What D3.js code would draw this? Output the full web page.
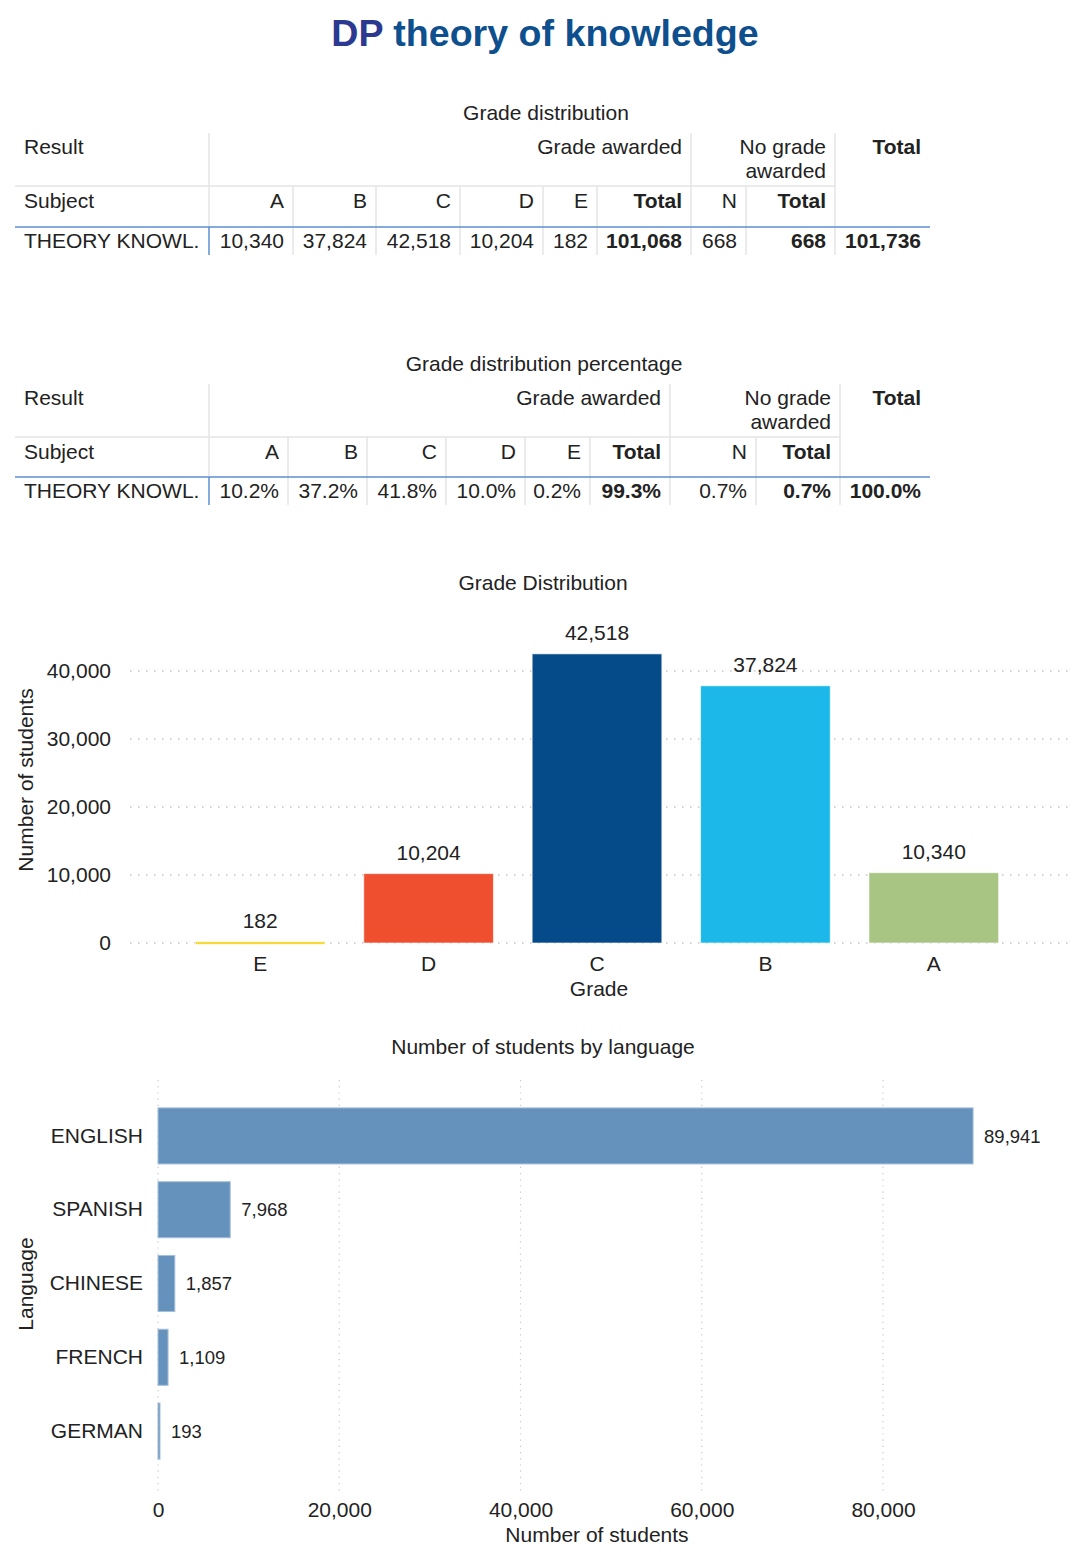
<!DOCTYPE html>
<html>
<head>
<meta charset="utf-8">
<script src="https://cdn.jsdelivr.net/npm/d3@7"></script>
<style>
  body { margin: 0; background: #fff; }
  svg text { font-family: "Liberation Sans", Arial, sans-serif; fill: #222; }
</style>
</head>
<body>
<div id="chart"></div>
<script>
// data
var subject = "THEORY KNOWL.";
var colHeads = ["A", "B", "C", "D", "E", "Total", "N", "Total", "Total"];
var colBold = [false, false, false, false, false, true, false, true, true];
var gradeCounts = [10340, 37824, 42518, 10204, 182, 101068, 668, 668, 101736];
var gradePercents = [10.2, 37.2, 41.8, 10.0, 0.2, 99.3, 0.7, 0.7, 100.0];

var grades = ["E", "D", "C", "B", "A"];
var gradeValues = [182, 10204, 42518, 37824, 10340];
var gradeColors = ["#f5d315", "#f04f2f", "#054a89", "#1cb8e9", "#a8c583"];
var gradeTicks = [0, 10000, 20000, 30000, 40000];

var languages = ["ENGLISH", "SPANISH", "CHINESE", "FRENCH", "GERMAN"];
var languageValues = [89941, 7968, 1857, 1109, 193];
var languageTicks = [0, 20000, 40000, 60000, 80000];

var W = 1080, H = 1559;
var fmt = d3.format(",");
var svg = d3.select("#chart").append("svg")
    .attr("width", W)
    .attr("height", H);

svg.append("text")
    .attr("x", 545).attr("y", 32).attr("dy", "0.36em")
    .attr("text-anchor", "middle")
    .style("font-size", "37.6px").style("font-weight", "bold")
    .call(function(t) {
        t.append("tspan").text("DP").style("fill", "#2b3990");
        t.append("tspan").text(" theory of knowledge").style("fill", "#0e4f8e");
    });

function drawTable(opt) {
    var g = svg.append("g");
    var e = opt.edges, r = opt.rows;
    var grey = "#e4e4e4", blue = "#5b8fd0";

    g.append("text").attr("x", opt.titleX).attr("y", r[0] - 21).attr("dy", "0.36em")
        .attr("text-anchor", "middle").style("font-size", "21px").text(opt.title);

    function line(x1, y1, x2, y2, c) {
        g.append("line").attr("x1", x1).attr("y1", y1).attr("x2", x2).attr("y2", y2)
            .attr("stroke", c).attr("stroke-width", 1.5);
    }
    // header row 1 dividers
    [1, 7, 9].forEach(function(i) { line(e[i], r[0], e[i], r[1], grey); });
    line(e[0], r[1], e[9], r[1], grey);
    // header row 2 dividers
    for (var i = 1; i <= 9; i++) line(e[i], r[1], e[i], r[2], grey);
    // data row dividers
    for (var i = 2; i <= 9; i++) line(e[i], r[2], e[i], r[3], grey);
    line(e[0], r[2], e[10], r[2], blue);
    line(e[1], r[2], e[1], r[3], blue);

    function txt(x, y, s, anchor, bold) {
        g.append("text").attr("x", x).attr("y", y).attr("dy", "0.36em")
            .attr("text-anchor", anchor).style("font-size", "21px")
            .style("font-weight", bold ? "bold" : "normal").text(s);
    }
    var pad = 9;
    var y1 = r[0] + 13, y2 = r[1] + 14, y3 = (r[2] + r[3]) / 2 - 1;
    txt(e[0] + pad, y1, "Result", "start");
    txt(e[7] - pad, y1, "Grade awarded", "end");
    txt(e[9] - pad, y1, "No grade", "end");
    txt(e[9] - pad, y1 + 24, "awarded", "end");
    txt(e[10] - pad, y1, "Total", "end", true);
    txt(e[0] + pad, y2, "Subject", "start");
    colHeads.forEach(function(h, i) {
        if (i < 8) txt(e[i + 2] - pad, y2, h, "end", colBold[i]);
    });
    txt(e[0] + pad, y3, subject, "start");
    opt.values.forEach(function(v, i) {
        txt(e[i + 2] - pad, y3, opt.format(v), "end", colBold[i]);
    });
}

drawTable({
    title: "Grade distribution", titleX: 546,
    edges: [15, 209, 293, 376, 460, 543, 597, 691, 746, 835, 930],
    rows: [133, 186, 227, 255],
    values: gradeCounts, format: fmt
});
drawTable({
    title: "Grade distribution percentage", titleX: 544,
    edges: [15, 209, 288, 367, 446, 525, 590, 670, 756, 840, 930],
    rows: [384, 437, 477, 505],
    values: gradePercents, format: function(v) { return v.toFixed(1) + "%"; }
});

// grade distribution bar chart
var x1 = d3.scaleBand().domain(grades).range([176, 1018]).paddingInner(0.23).paddingOuter(0.115);
var y1 = d3.scaleLinear().domain([0, 40000]).range([943, 671]);

svg.append("text").attr("x", 543).attr("y", 582).attr("dy", "0.36em")
    .attr("text-anchor", "middle").style("font-size", "21px").text("Grade Distribution");

svg.append("g").selectAll("line").data(gradeTicks).enter().append("line")
    .attr("x1", 130).attr("x2", 1070)
    .attr("y1", function(d) { return y1(d); }).attr("y2", function(d) { return y1(d); })
    .attr("stroke", "#c8c8c8").attr("stroke-width", 1.5).attr("stroke-dasharray", "1.5,6.5");

var yAxis = svg.append("g").attr("transform", "translate(118,0)")
    .call(d3.axisLeft(y1).tickValues(gradeTicks).tickSize(0).tickPadding(7).tickFormat(fmt));
yAxis.select(".domain").remove();
yAxis.selectAll("text").style("font-size", "21px").attr("fill", "#222").style("font-family", null);

svg.append("g").selectAll("rect").data(grades).enter().append("rect")
    .attr("x", function(d) { return x1(d); })
    .attr("width", x1.bandwidth())
    .attr("y", function(d, i) { return y1(gradeValues[i]); })
    .attr("height", function(d, i) { return Math.max(2.5, y1(0) - y1(gradeValues[i])); })
    .attr("fill", function(d, i) { return gradeColors[i]; })
    .attr("stroke", "rgba(255,255,255,0.6)").attr("stroke-width", 1);

svg.append("g").selectAll("text").data(grades).enter().append("text")
    .attr("x", function(d) { return x1(d) + x1.bandwidth() / 2; })
    .attr("y", function(d, i) { return y1(gradeValues[i]) - 21; })
    .attr("dy", "0.36em").attr("text-anchor", "middle").style("font-size", "21px")
    .text(function(d, i) { return fmt(gradeValues[i]); });

var xAxis = svg.append("g").attr("transform", "translate(0,950)")
    .call(d3.axisBottom(x1).tickSize(0).tickPadding(6));
xAxis.select(".domain").remove();
xAxis.selectAll("text").style("font-size", "21px").attr("fill", "#222").style("font-family", null);

svg.append("text").attr("x", 599).attr("y", 988).attr("dy", "0.36em")
    .attr("text-anchor", "middle").style("font-size", "21px").text("Grade");
svg.append("text").attr("transform", "translate(25,780) rotate(-90)").attr("dy", "0.36em")
    .attr("text-anchor", "middle").style("font-size", "21px").text("Number of students");

// students by language
var x2 = d3.scaleLinear().domain([0, 80000]).range([158, 883]);
var y2 = d3.scaleBand().domain(languages).range([1071, 1496]).paddingInner(0.24).paddingOuter(0.5);

svg.append("text").attr("x", 543).attr("y", 1046).attr("dy", "0.36em")
    .attr("text-anchor", "middle").style("font-size", "21px").text("Number of students by language");

svg.append("g").selectAll("line").data(languageTicks).enter().append("line")
    .attr("y1", 1080).attr("y2", 1492)
    .attr("x1", function(d) { return x2(d); }).attr("x2", function(d) { return x2(d); })
    .attr("stroke", "#c8c8c8").attr("stroke-width", 1.2).attr("stroke-dasharray", "1.2,5");

svg.append("g").selectAll("rect").data(languages).enter().append("rect")
    .attr("x", x2(0))
    .attr("y", function(d) { return y2(d); })
    .attr("height", y2.bandwidth())
    .attr("width", function(d, i) { return Math.max(2, x2(languageValues[i]) - x2(0)); })
    .attr("fill", "#6592bc")
    .attr("stroke", "#a7c0da").attr("stroke-width", 1);

svg.append("g").selectAll("text").data(languages).enter().append("text")
    .attr("x", function(d, i) { return Math.max(x2(languageValues[i]), x2(0) + 2) + 11; })
    .attr("y", function(d) { return y2(d) + y2.bandwidth() / 2; })
    .attr("dy", "0.36em").style("font-size", "18.5px")
    .text(function(d, i) { return fmt(languageValues[i]); });

var lyAxis = svg.append("g").attr("transform", "translate(151,0)")
    .call(d3.axisLeft(y2).tickSize(0).tickPadding(8));
lyAxis.select(".domain").remove();
lyAxis.selectAll("text").style("font-size", "21px").attr("fill", "#222").style("font-family", null);

var lxAxis = svg.append("g").attr("transform", "translate(0,1498)")
    .call(d3.axisBottom(x2).tickValues(languageTicks).tickSize(0).tickPadding(4).tickFormat(fmt));
lxAxis.select(".domain").remove();
lxAxis.selectAll("text").style("font-size", "21px").attr("fill", "#222").style("font-family", null);

svg.append("text").attr("x", 597).attr("y", 1534).attr("dy", "0.36em")
    .attr("text-anchor", "middle").style("font-size", "21px").text("Number of students");
svg.append("text").attr("transform", "translate(25,1284) rotate(-90)").attr("dy", "0.36em")
    .attr("text-anchor", "middle").style("font-size", "21px").text("Language");
</script>
</body>
</html>
